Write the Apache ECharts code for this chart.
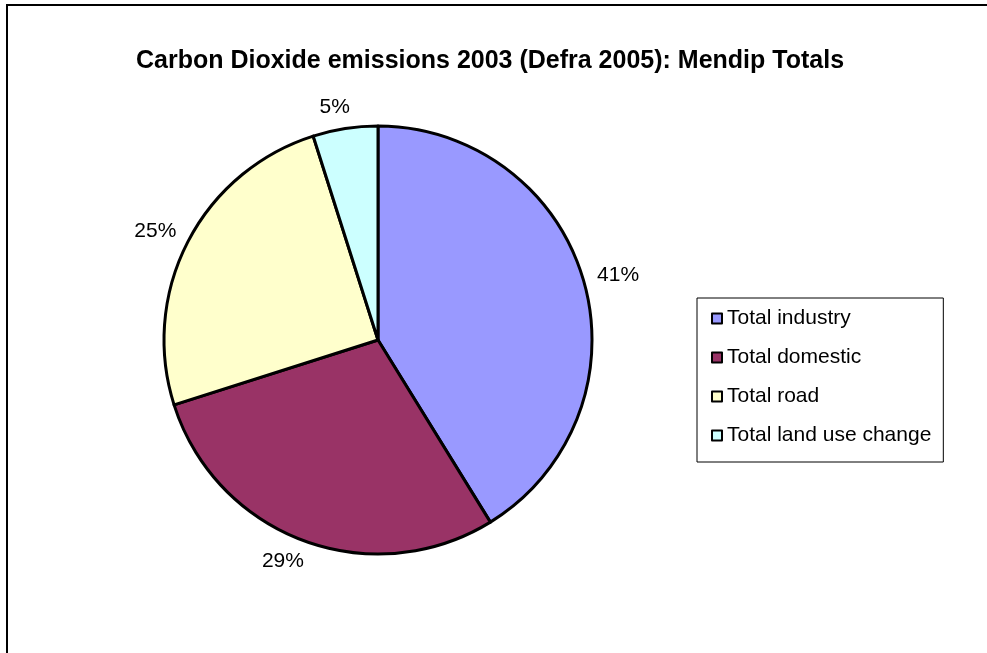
<!DOCTYPE html>
<html>
<head>
<meta charset="utf-8">
<script src="https://cdn.jsdelivr.net/npm/echarts@6/dist/echarts.min.js"></script>
<style>
    html, body { margin: 0; padding: 0; background: #fff; }
    #chart { width: 987px; height: 653px; }
</style>
</head>
<body>
<div id="chart"></div>
<script type="text/javascript">
    var categories = ['Total industry', 'Total domestic', 'Total road', 'Total land use change'];
    var shares = [41.2, 28.9, 25.0, 4.9];
    var colors = ['#9999FF', '#993366', '#FFFFCC', '#CCFFFF'];

    var pieData = categories.map(function (name, i) {
        return { name: name, value: shares[i], itemStyle: { color: colors[i] } };
    });

    var font = 'Liberation Sans, Arial, sans-serif';
    var myChart = echarts.init(document.getElementById('chart'));
    var option = {
        backgroundColor: '#fff',
        animation: false,
        graphic: [
            {
                type: 'rect',
                shape: { x: 7, y: 5, width: 1000, height: 700 },
                style: { fill: 'none', stroke: '#000', lineWidth: 2 }
            }
        ],
        title: {
            text: 'Carbon Dioxide emissions 2003 (Defra 2005): Mendip Totals',
            left: 485,
            textAlign: 'center',
            top: 44,
            textStyle: {
                fontFamily: font,
                fontSize: 25,
                fontWeight: 'bold',
                color: '#000'
            }
        },
        legend: {
            orient: 'vertical',
            left: 697,
            top: 298,
            padding: [10, 12, 16, 14],
            itemGap: 18,
            itemWidth: 10,
            itemHeight: 10,
            icon: 'rect',
            borderColor: '#000',
            borderWidth: 1,
            data: categories,
            itemStyle: { borderColor: '#000', borderWidth: 2 },
            textStyle: {
                fontFamily: font,
                fontSize: 21,
                color: '#000'
            }
        },
        series: [
            {
                type: 'pie',
                center: [378, 340],
                radius: 214,
                startAngle: 90,
                clockwise: true,
                data: pieData,
                itemStyle: { borderColor: '#000', borderWidth: 3 },
                emphasis: { disabled: true },
                label: {
                    position: 'outside',
                    fontFamily: font,
                    fontSize: 21,
                    color: '#000',
                    distanceToLabelLine: -8,
                    formatter: function (p) { return Math.round(p.percent) + '%'; }
                },
                labelLine: { show: false, length: 22, length2: 0 }
            }
        ]
    };
    myChart.setOption(option);
</script>
</body>
</html>
